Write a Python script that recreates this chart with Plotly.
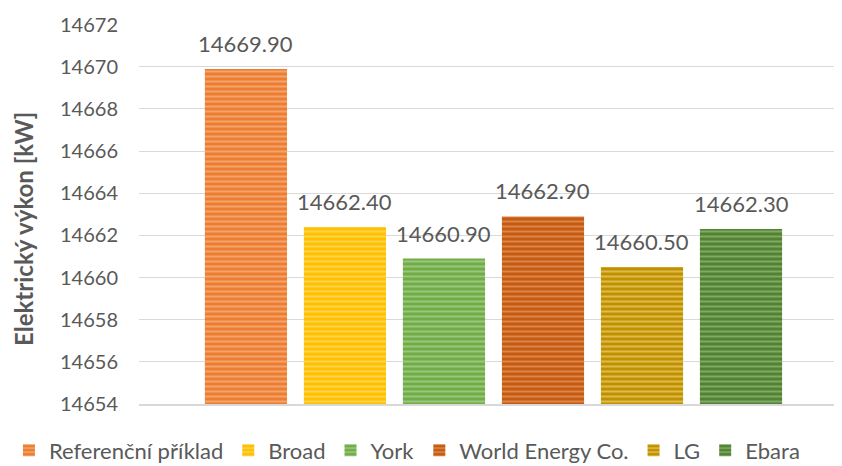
import plotly.graph_objects as go

series_names = ["Referenční příklad", "Broad", "York", "World Energy Co.", "LG", "Ebara"]
values = [14669.90, 14662.40, 14660.90, 14662.90, 14660.50, 14662.30]
base_colors = ["#ED7D31", "#FFC000", "#70AD47", "#C55A11", "#BF9000", "#548235"]
stripe_colors = ["#F8CBAD", "#FFE699", "#C5E0B4", "#F4B183", "#FFE699", "#A9D18E"]
y_ticks = [14654, 14656, 14658, 14660, 14662, 14664, 14666, 14668, 14670, 14672]
y_title = "Elektrický výkon [kW]"

FONT = "Lato, Carlito, 'Liberation Sans', sans-serif"
TXT = "#595959"

PW = 703  # plot width in px
PH = 380  # plot height in px

fig = go.Figure()
for i, (name, v, bc, sc) in enumerate(zip(series_names, values, base_colors, stripe_colors)):
    fig.add_trace(go.Bar(
        x=[i], y=[v], name=name, width=0.83,
        marker=dict(color=bc, line=dict(width=0),
                    pattern=dict(shape="-", bgcolor=bc, fgcolor=sc, size=5, solidity=0.4,
                                 fillmode="overlay")),
        hoverinfo="y",
    ))
    fig.add_annotation(x=i, y=v, text=f"{v:.2f}", showarrow=False,
                       yanchor="bottom", yshift=10,
                       font=dict(size=22, color=TXT, family=FONT))

fig.add_annotation(xref="paper", yref="paper", x=(23 - 139) / PW, y=(404 - 229) / PH,
                   text=f"<b>{y_title}</b>", textangle=-90, showarrow=False,
                   xanchor="center", yanchor="middle",
                   font=dict(size=24, color=TXT, family=FONT))

fig.update_layout(
    width=834, height=458,
    margin=dict(l=131, r=0, t=16, b=62, autoexpand=False),
    barmode="overlay",
    plot_bgcolor="white", paper_bgcolor="white",
    font=dict(family=FONT, color=TXT),
    showlegend=True,
    legend=dict(orientation="h", x=-0.185, xanchor="left",
                y=-0.122, yanchor="middle",
                font=dict(size=22, color=TXT, family=FONT), itemwidth=30,
                traceorder="normal", tracegroupgap=0),
    yaxis=dict(range=[14654, 14672.03], tickvals=y_ticks, tickformat="d",
               showgrid=True, gridcolor="#D9D9D9", gridwidth=1,
               zeroline=False, showline=False, automargin=False,
               tickfont=dict(size=20, color=TXT, family=FONT), ticklabelstandoff=20),
    xaxis=dict(range=[-1.08, 6.02], showticklabels=False, showline=True, linecolor="#D9D9D9",
               linewidth=2, ticks="", showgrid=False, zeroline=False, automargin=False),
)

fig.write_html("out.html")
